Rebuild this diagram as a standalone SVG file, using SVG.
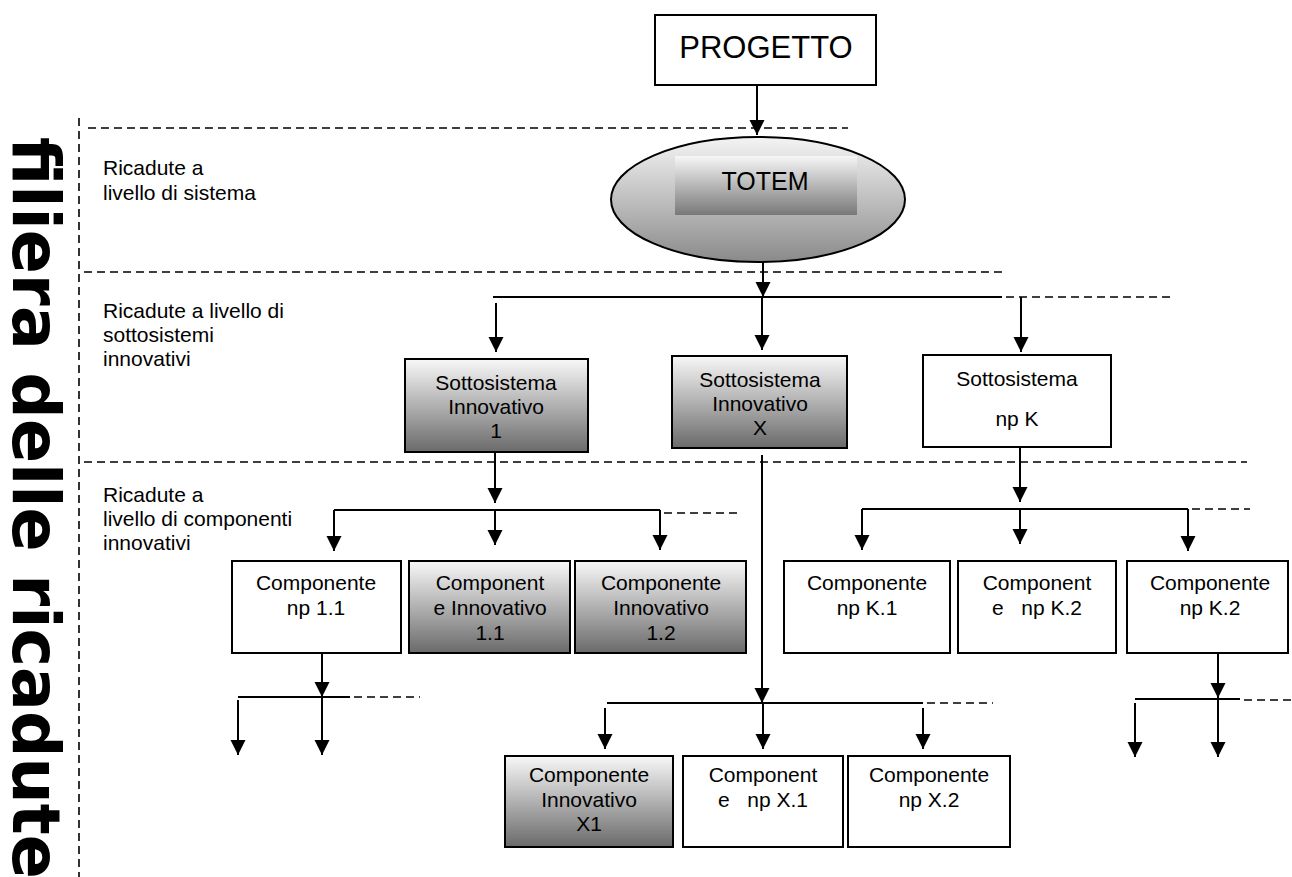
<svg xmlns="http://www.w3.org/2000/svg" width="1292" height="877" viewBox="0 0 1292 877">
<defs>
<linearGradient id="gBox" x1="0" y1="0" x2="0" y2="1">
<stop offset="0" stop-color="#f8f8f8"/>
<stop offset="1" stop-color="#6a6a6a"/>
</linearGradient>
<linearGradient id="gEll" x1="0" y1="0" x2="0" y2="1">
<stop offset="0" stop-color="#f4f4f4"/>
<stop offset="1" stop-color="#8a8a8a"/>
</linearGradient>
<linearGradient id="gTot" x1="0" y1="0" x2="0" y2="1">
<stop offset="0" stop-color="#f6f6f6"/>
<stop offset="1" stop-color="#787878"/>
</linearGradient>
<marker id="ar" markerUnits="userSpaceOnUse" markerWidth="16" markerHeight="16" refX="15" refY="7.5" orient="auto">
<path d="M0,0 L15,7.5 L0,15 z" fill="#000"/>
</marker>
<style>
.box{stroke:#000;stroke-width:2;fill:#fff}
.gbox{stroke:#000;stroke-width:2;fill:url(#gBox)}
.t{font-family:"Liberation Sans",Arial,sans-serif;font-size:21px;fill:#000;text-anchor:middle}
.lab{font-family:"Liberation Sans",Arial,sans-serif;font-size:21px;fill:#000}
.c{stroke:#000;stroke-width:2;fill:none}
.a{stroke:#000;stroke-width:2;fill:none;marker-end:url(#ar)}
.d{stroke:#000;stroke-width:1.6;fill:none;stroke-dasharray:8,5}
</style>
</defs>

<g id="title">
<text transform="translate(13,137) rotate(90)" x="0" y="0" style="font-family:'DejaVu Sans',sans-serif;font-weight:bold;font-size:65px">filiera delle ricadute</text>
</g>

<g id="levels">
<line class="d" x1="79" y1="118" x2="79" y2="877"/>
<line class="d" x1="88" y1="128" x2="848" y2="128"/>
<line class="d" x1="84" y1="272" x2="1002" y2="272"/>
<line class="d" x1="84" y1="462" x2="1247" y2="462"/>
<text class="lab" x="103" y="175">Ricadute a</text>
<text class="lab" x="103" y="200">livello di sistema</text>
<text class="lab" x="103" y="318">Ricadute a livello di</text>
<text class="lab" x="103" y="342">sottosistemi</text>
<text class="lab" x="103" y="366">innovativi</text>
<text class="lab" x="103" y="502">Ricadute a</text>
<text class="lab" x="103" y="526">livello di componenti</text>
<text class="lab" x="103" y="550">innovativi</text>
</g>

<g id="connectors">
<line class="a" x1="757" y1="85" x2="757" y2="135"/>
<line class="a" x1="763" y1="262" x2="763" y2="297"/>
<line class="c" x1="493" y1="297" x2="1002" y2="297"/>
<line class="d" x1="1006" y1="297" x2="1170" y2="297"/>
<line class="a" x1="496" y1="303" x2="496" y2="352"/>
<line class="a" x1="762" y1="297" x2="762" y2="350"/>
<line class="a" x1="1021" y1="297" x2="1021" y2="352"/>

<line class="a" x1="495" y1="452" x2="495" y2="503"/>
<line class="c" x1="334" y1="510" x2="660" y2="510"/>
<line class="d" x1="664" y1="513" x2="740" y2="513"/>
<line class="a" x1="334" y1="510" x2="334" y2="551"/>
<line class="a" x1="495" y1="510" x2="495" y2="545"/>
<line class="a" x1="660" y1="510" x2="660" y2="550"/>

<line class="a" x1="1020" y1="447" x2="1020" y2="502"/>
<line class="c" x1="862" y1="509" x2="1188" y2="509"/>
<line class="d" x1="1192" y1="509" x2="1250" y2="509"/>
<line class="a" x1="862" y1="509" x2="862" y2="550"/>
<line class="a" x1="1020" y1="509" x2="1020" y2="544"/>
<line class="a" x1="1188" y1="509" x2="1188" y2="551"/>

<line class="a" x1="322" y1="653" x2="322" y2="697"/>
<line class="c" x1="238" y1="697" x2="350" y2="697"/>
<line class="d" x1="354" y1="697" x2="420" y2="697"/>
<line class="a" x1="238" y1="700" x2="238" y2="755"/>
<line class="a" x1="322" y1="697" x2="322" y2="755"/>

<line class="a" x1="762" y1="455" x2="762" y2="703"/>
<line class="c" x1="607" y1="703" x2="923" y2="703"/>
<line class="d" x1="927" y1="703" x2="993" y2="703"/>
<line class="a" x1="605" y1="708" x2="605" y2="749"/>
<line class="a" x1="763" y1="703" x2="763" y2="749"/>
<line class="a" x1="923" y1="708" x2="923" y2="749"/>

<line class="a" x1="1218" y1="653" x2="1218" y2="698"/>
<line class="c" x1="1135" y1="699" x2="1240" y2="699"/>
<line class="d" x1="1244" y1="700" x2="1292" y2="700"/>
<line class="a" x1="1135" y1="703" x2="1135" y2="757"/>
<line class="a" x1="1218" y1="699" x2="1218" y2="757"/>
</g>

<g id="progetto">
<rect class="box" x="655" y="15" width="221" height="70"/>
<text class="t" x="766" y="58" style="font-size:31px">PROGETTO</text>
</g>

<g id="totem">
<ellipse cx="758" cy="199.5" rx="147" ry="62.5" fill="url(#gEll)" stroke="#000" stroke-width="2"/>
<rect x="675" y="156" width="182" height="59" fill="url(#gTot)"/>
<text class="t" x="765" y="190" style="font-size:25px">TOTEM</text>
</g>

<g id="sotto1">
<rect class="gbox" x="405" y="359" width="183" height="93"/>
<text class="t" x="496" y="390">Sottosistema</text>
<text class="t" x="496" y="414">Innovativo</text>
<text class="t" x="496" y="438">1</text>
</g>

<g id="sottoX">
<rect class="gbox" x="672" y="356" width="175" height="92"/>
<text class="t" x="760" y="387">Sottosistema</text>
<text class="t" x="760" y="411">Innovativo</text>
<text class="t" x="760" y="435">X</text>
</g>

<g id="sottoK">
<rect class="box" x="923" y="355" width="188" height="92"/>
<text class="t" x="1017" y="386">Sottosistema</text>
<text class="t" x="1017" y="426">np K</text>
</g>

<g id="comp-np11">
<rect class="box" x="232" y="561" width="169" height="92"/>
<text class="t" x="316" y="590">Componente</text>
<text class="t" x="316" y="615">np 1.1</text>
</g>

<g id="comp-inn11">
<rect class="gbox" x="409" y="561" width="161" height="92"/>
<text class="t" x="490" y="590">Component</text>
<text class="t" x="490" y="615">e Innovativo</text>
<text class="t" x="490" y="640">1.1</text>
</g>

<g id="comp-inn12">
<rect class="gbox" x="575" y="561" width="171" height="92"/>
<text class="t" x="661" y="590">Componente</text>
<text class="t" x="661" y="615">Innovativo</text>
<text class="t" x="661" y="640">1.2</text>
</g>

<g id="comp-npK1">
<rect class="box" x="784" y="561" width="166" height="92"/>
<text class="t" x="867" y="590">Componente</text>
<text class="t" x="867" y="615">np K.1</text>
</g>

<g id="comp-npK2a">
<rect class="box" x="958" y="561" width="158" height="92"/>
<text class="t" x="1037" y="590">Component</text>
<text class="t" x="1037" y="615" xml:space="preserve">e   np K.2</text>
</g>

<g id="comp-npK2b">
<rect class="box" x="1127" y="561" width="161" height="92"/>
<text class="t" x="1210" y="590">Componente</text>
<text class="t" x="1210" y="615">np K.2</text>
</g>

<g id="comp-innX1">
<rect class="gbox" x="505" y="756" width="168" height="91"/>
<text class="t" x="589" y="782">Componente</text>
<text class="t" x="589" y="807">Innovativo</text>
<text class="t" x="589" y="831">X1</text>
</g>

<g id="comp-npX1">
<rect class="box" x="683" y="756" width="160" height="91"/>
<text class="t" x="763" y="782">Component</text>
<text class="t" x="763" y="807" xml:space="preserve">e   np X.1</text>
</g>

<g id="comp-npX2">
<rect class="box" x="848" y="756" width="162" height="91"/>
<text class="t" x="929" y="782">Componente</text>
<text class="t" x="929" y="807">np X.2</text>
</g>
</svg>
